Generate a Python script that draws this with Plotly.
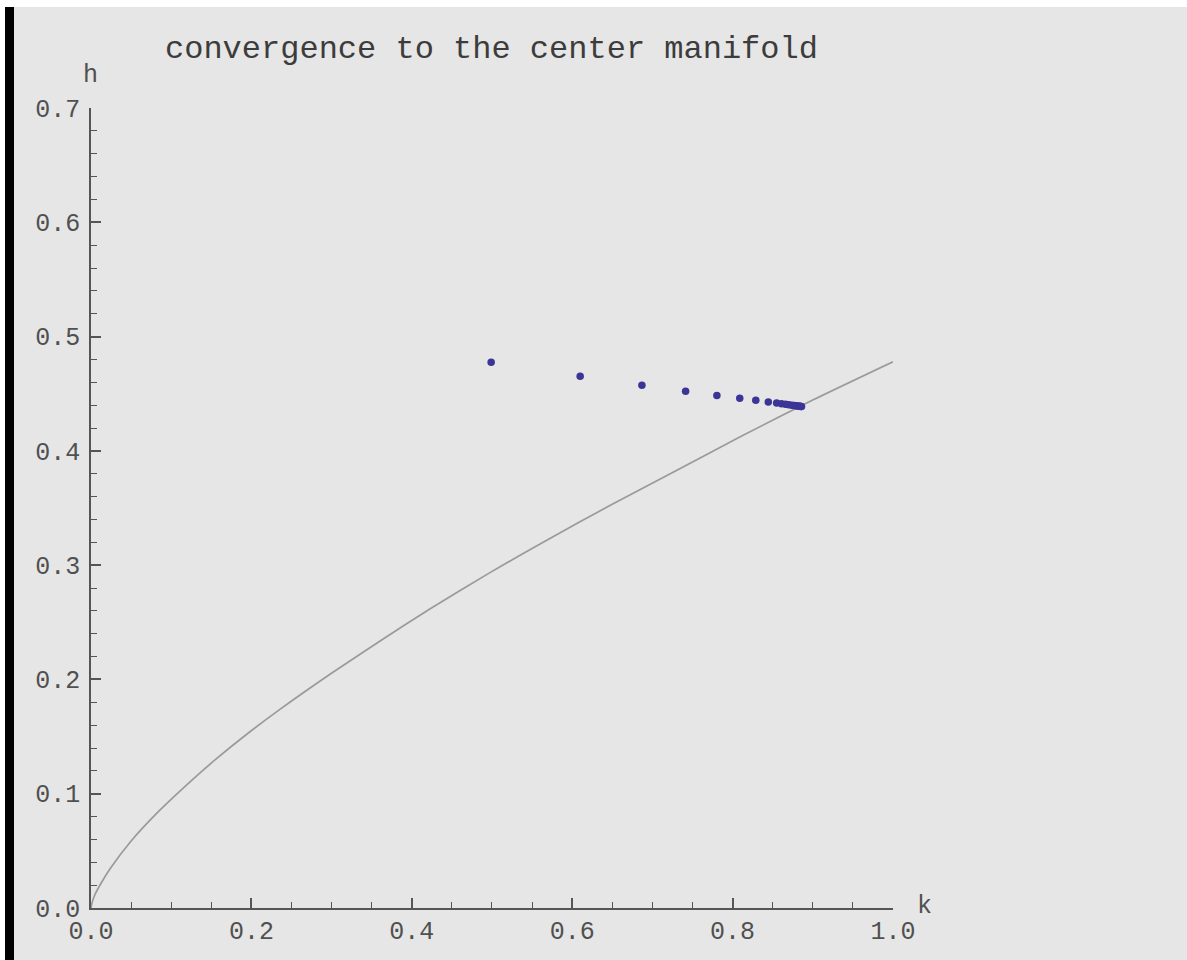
import plotly.graph_objects as go

# Data
curve_k = [0.0, 0.0015, 0.005, 0.012, 0.024, 0.049, 0.08, 0.117, 0.155, 0.195, 0.236, 0.298,
           0.36, 0.423, 0.4975, 0.57, 0.647, 0.73, 0.809, 0.9, 1.0]
curve_h = [0.0, 0.0050, 0.0118, 0.021, 0.0345, 0.0578, 0.0815, 0.1062, 0.1298, 0.1525, 0.174, 0.2045,
           0.2335, 0.2618, 0.2935, 0.3225, 0.3522, 0.3828, 0.4122, 0.4445, 0.478]

iter_k = [0.499, 0.610, 0.687, 0.7415, 0.7805, 0.809, 0.829, 0.8446, 0.855,
          0.861, 0.866, 0.870, 0.874, 0.877, 0.879, 0.881, 0.883, 0.884, 0.885, 0.886]
iter_h = [0.4776, 0.4654, 0.4575, 0.4522, 0.4486, 0.4460, 0.4443, 0.4429, 0.4420,
          0.4413, 0.4408, 0.4404, 0.4400, 0.4397, 0.4395, 0.4393, 0.4391, 0.4390, 0.4389, 0.4388]

x_ticks = [0.0, 0.2, 0.4, 0.6, 0.8, 1.0]
y_ticks = [0.0, 0.1, 0.2, 0.3, 0.4, 0.5, 0.6, 0.7]

title_text = "convergence to the center manifold"
x_label = "k"
y_label = "h"

W, H = 1187, 960
L, R, T, B = 91, W - 893, 108, H - 908
FONT = "Liberation Mono, Courier New, monospace"
GRAY_BG = "#e6e6e6"
AX = "#555555"
TXT = "#505050"

def px_x(p):
    return (p - L) / (W - L - R)

def px_y(p):
    return (H - B - p) / (H - T - B)

fig = go.Figure()
fig.add_trace(go.Scatter(x=curve_k, y=curve_h, mode="lines",
                         line=dict(color="#9a9a9a", width=1.7, shape="spline", smoothing=0.6),
                         hoverinfo="skip", showlegend=False))
fig.add_trace(go.Scatter(x=iter_k, y=iter_h, mode="markers",
                         marker=dict(color="#3a3596", size=7.5, line=dict(width=0)),
                         showlegend=False))

axis_common = dict(showgrid=False, zeroline=False, showline=True, linecolor=AX, linewidth=1.5,
                   ticks="inside", ticklen=10, tickwidth=1.5, tickcolor=AX,
                   tickfont=dict(family=FONT, size=25, color=TXT),
                   tickformat=".1f", fixedrange=True)

fig.update_xaxes(range=[0, 1.0001], tickvals=x_ticks, ticklabelstandoff=-1,
                 minor=dict(dtick=0.05, tick0=0, ticks="inside", ticklen=6, tickwidth=1.3, tickcolor=AX),
                 **axis_common)
fig.update_yaxes(range=[0, 0.7001], tickvals=y_ticks, ticklabelstandoff=4,
                 minor=dict(dtick=0.02, tick0=0, ticks="inside", ticklen=6, tickwidth=1.3, tickcolor=AX),
                 **axis_common)

shapes = [
    # white top strip
    dict(type="rect", xref="paper", yref="paper", x0=px_x(0), x1=px_x(W), y0=px_y(7), y1=px_y(0),
         fillcolor="white", line=dict(width=0), layer="below"),
    # white left strip
    dict(type="rect", xref="paper", yref="paper", x0=px_x(0), x1=px_x(5), y0=px_y(H), y1=px_y(0),
         fillcolor="white", line=dict(width=0), layer="below"),
    # black left bar
    dict(type="rect", xref="paper", yref="paper", x0=px_x(5), x1=px_x(14), y0=px_y(H), y1=px_y(7),
         fillcolor="black", line=dict(width=0), layer="below"),
]

annotations = [
    dict(text=title_text, xref="paper", yref="paper", x=px_x(491), y=px_y(49),
         xanchor="center", yanchor="middle", showarrow=False,
         font=dict(family=FONT, size=32, color="#3c3c3c")),
    dict(text=y_label, xref="paper", yref="paper", x=px_x(90), y=px_y(76),
         xanchor="center", yanchor="middle", showarrow=False,
         font=dict(family=FONT, size=25, color=TXT)),
    dict(text=x_label, xref="paper", yref="paper", x=px_x(915), y=px_y(906),
         xanchor="left", yanchor="middle", showarrow=False,
         font=dict(family=FONT, size=25, color=TXT)),
]

fig.update_layout(width=W, height=H, margin=dict(l=L, r=R, t=T, b=B, autoexpand=False),
                  paper_bgcolor=GRAY_BG, plot_bgcolor=GRAY_BG,
                  shapes=shapes, annotations=annotations, showlegend=False)

fig.write_html("out.html", config={"displayModeBar": False},
               post_script="document.body.style.margin='0px';document.body.style.padding='0px';")
